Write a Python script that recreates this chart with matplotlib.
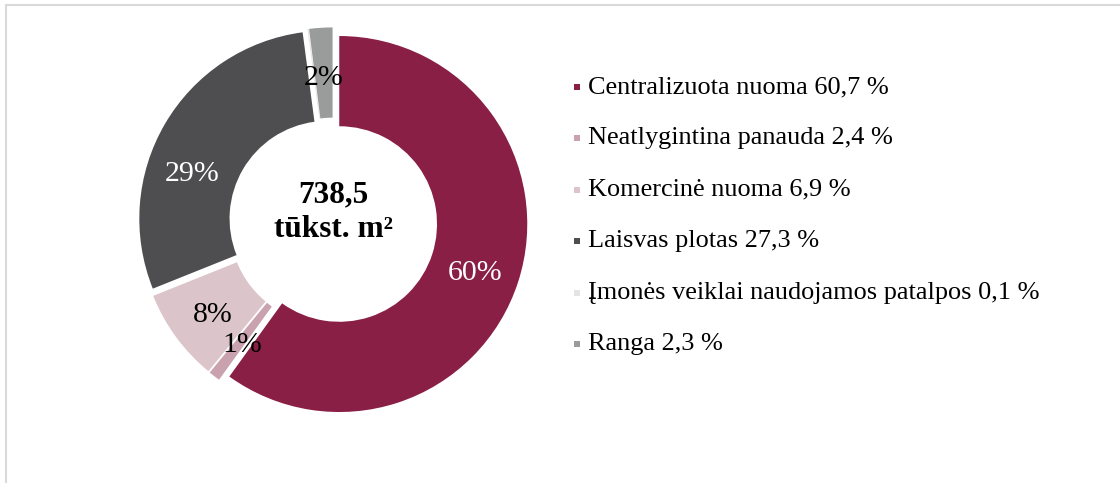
import matplotlib
matplotlib.use("Agg")
import matplotlib.pyplot as plt
import numpy as np
from matplotlib.patches import Rectangle
from matplotlib.lines import Line2D

plt.rcParams['font.family'] = ['Liberation Serif', 'DejaVu Serif']

# --- data ---
categories = ['Centralizuota nuoma', 'Neatlygintina panauda', 'Komercinė nuoma',
              'Laisvas plotas', 'Įmonės veiklai naudojamos patalpos', 'Ranga']
legend_pct = ['60,7', '2,4', '6,9', '27,3', '0,1', '2,3']
slice_values = [60, 1, 8, 29, 0.1, 2]   # shares as drawn / labelled in the ring
colors = ['#8A1F45', '#C9A1AF', '#DCC4CB', '#4E4E50', '#E4E4E4', '#9A9B9B']
label_colors = ['white', 'black', 'black', 'white', 'black', 'black']
total_text = '738,5\ntūkst. m²'

W, H = 1120, 483
fig = plt.figure(figsize=(W / 100, H / 100), dpi=100)

# light grey frame (top + left only)
fig.add_artist(Line2D([6 / W, 6 / W], [0, 1 - 5 / H], color='#d9d9d9', lw=1.5))
fig.add_artist(Line2D([6 / W, 1], [1 - 5 / H, 1 - 5 / H], color='#d9d9d9', lw=1.5))

# donut
cx, cy, R = 333, 222, 188
half = 200
ax = fig.add_axes([(cx - half) / W, (H - cy - half) / H, 2 * half / W, 2 * half / H])
wedges, _ = ax.pie(slice_values, colors=colors, startangle=90, counterclock=False,
                   explode=[0.035] * len(slice_values),
                   wedgeprops=dict(width=0.48, linewidth=0))
ax.set_xlim(-half / R, half / R)
ax.set_ylim(-half / R, half / R)
ax.set_aspect('equal')
ax.axis('off')

# labels sit a little low in the original; the 29% one was dragged by hand
nudge = {3: (-12, -22)}
px = 1.0 / R
for i, (w, v, c) in enumerate(zip(wedges, slice_values, label_colors)):
    if v < 1:
        continue
    mid = np.deg2rad((w.theta1 + w.theta2) / 2)
    r = 0.76
    x = w.center[0] + r * np.cos(mid)
    y = w.center[1] + r * np.sin(mid) - 5 * px
    dx, dy = nudge.get(i, (0, 0))
    ax.text(x + dx * px, y + dy * px, f'{v:.0f}%', ha='center', va='center',
            fontsize=21.5, color=c)

ax.text(0, 10 * px, total_text, ha='center', va='center', fontsize=22.5,
        fontweight='bold', linespacing=1.25)

# legend
y0, pitch = 87, 51.4
for i, (cat, p, col) in enumerate(zip(categories, legend_pct, colors)):
    yc = y0 + i * pitch
    fig.add_artist(Rectangle((574 / W, (H - yc - 3) / H), 6 / W, 6 / H,
                             facecolor=col, edgecolor='none'))
    fig.text(588 / W, (H - yc) / H, f'{cat} {p} %', ha='left', va='center',
             fontsize=18.9, color='black')

fig.savefig('out.png', dpi=100)
